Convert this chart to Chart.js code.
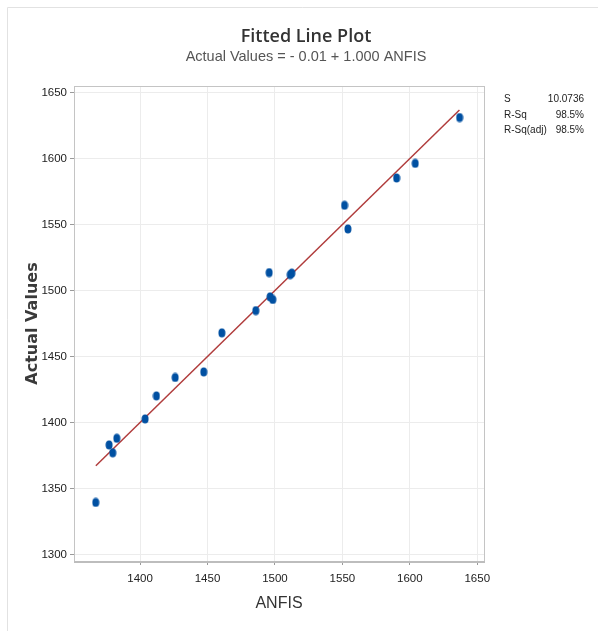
<!DOCTYPE html>
<html><head><meta charset="utf-8">
<script src="https://cdn.jsdelivr.net/npm/chart.js@4"></script>
<style>html,body{margin:0;padding:0;background:#fff;overflow:hidden}#wrap{width:598px;height:631px;position:relative}</style>
</head><body><div id="wrap"><canvas id="c" width="598" height="631"></canvas></div>
<script>
// ---- data ----
const anfis  = [1367.1, 1377.0, 1379.7, 1382.7, 1403.7, 1412.1, 1426.0, 1447.2, 1460.6, 1485.8, 1495.7, 1496.4, 1498.4, 1511.3, 1512.5, 1551.6, 1554.1, 1590.2, 1604.0, 1636.9];
const actual = [1339.4, 1383.0, 1377.0, 1388.0, 1402.7, 1420.1, 1434.1, 1438.3, 1467.9, 1484.8, 1513.6, 1495.2, 1493.2, 1512.0, 1513.2, 1564.6, 1546.7, 1585.3, 1596.4, 1631.1];
const fitX = [1367.2, 1636.8];
const fitY = [1367.2, 1636.8];
const xTicks = [1400, 1450, 1500, 1550, 1600, 1650];
const yTicks = [1300, 1350, 1400, 1450, 1500, 1550, 1600, 1650];
const statNames  = ['S', 'R-Sq', 'R-Sq(adj)'];
const statValues = ['10.0736', '98.5%', '98.5%'];
const titleText = 'Fitted Line Plot';
const subtitleText = 'Actual Values = - 0.01 + 1.000 ANFIS';
const xTitle = 'ANFIS';
const yTitle = 'Actual Values';

const SANS = "'Liberation Sans', Arial, sans-serif";

// elliptical marker like the reference
const dot = document.createElement('canvas');
dot.width = 8; dot.height = 10;
(function(){ const g = dot.getContext('2d'); g.fillStyle = '#0050a2'; g.beginPath(); g.ellipse(4, 5, 3.5, 4.5, 0, 0, Math.PI*2); g.fill(); })();

const pts = anfis.map((v, i) => ({x: v, y: actual[i]}));
const fit = fitX.map((v, i) => ({x: v, y: fitY[i]}));

const framePlugin = {
  id: 'frame',
  beforeDraw(chart) {
    const ctx = chart.ctx;
    ctx.save();
    ctx.strokeStyle = '#e2e2e2'; ctx.lineWidth = 1;
    ctx.beginPath();
    ctx.moveTo(7.5, 631); ctx.lineTo(7.5, 7.5); ctx.lineTo(598, 7.5);
    ctx.stroke();
    ctx.restore();
  },
  afterDraw(chart) {
    const ctx = chart.ctx, a = chart.chartArea;
    ctx.save();
    ctx.strokeStyle = '#c4c4c4'; ctx.lineWidth = 1;
    ctx.strokeRect(Math.round(a.left) + 0.5, Math.round(a.top) + 0.5, Math.round(a.right - a.left), Math.round(a.bottom - a.top));
    ctx.strokeStyle = '#bdbdbd'; ctx.lineWidth = 2;
    ctx.beginPath(); ctx.moveTo(a.left, Math.round(a.bottom) + 1); ctx.lineTo(a.right + 1, Math.round(a.bottom) + 1); ctx.stroke();
    // stats box
    ctx.fillStyle = '#222';
    ctx.font = '10px ' + SANS;
    ctx.textBaseline = 'middle';
    const rows = [99.5, 115, 130.5];
    statNames.forEach((n, i) => {
      ctx.textAlign = 'left'; ctx.fillText(n, 504, rows[i]);
      ctx.textAlign = 'right'; ctx.fillText(statValues[i], 584, rows[i]);
    });
    ctx.restore();
  }
};

new Chart(document.getElementById('c'), {
  type: 'scatter',
  data: {
    datasets: [
      { type: 'line', data: fit, borderColor: '#b03c3c', borderWidth: 1.5, pointRadius: 0, fill: false, order: 2 },
      { data: pts, pointStyle: dot, pointRadius: 4, order: 1 }
    ]
  },
  options: {
    responsive: false,
    animation: false,
    layout: { padding: { left: 14, right: 0, top: 0, bottom: 0 } },
    plugins: {
      legend: { display: false },
      tooltip: { enabled: false },
      title: { display: true, text: titleText, color: '#333', font: { family: "'Open Sans', sans-serif", size: 18, weight: '600' }, padding: { top: 26, bottom: 0 } },
      subtitle: { display: true, text: subtitleText, color: '#555', font: { family: SANS, size: 14.5 }, padding: { top: 1, bottom: 20 } }
    },
    scales: {
      x: {
        type: 'linear', min: 1351, max: 1655,
        afterBuildTicks: s => { s.ticks = xTicks.map(v => ({value: v})); },
        afterFit: s => { s.height = 70; },
        grid: { color: '#ececec', tickColor: '#9a9a9a', tickLength: 4, drawTicks: true },
        border: { display: false },
        ticks: { color: '#222', font: { family: SANS, size: 11.5 }, padding: 7, maxRotation: 0, callback: v => String(v) },
        title: { display: true, text: xTitle, color: '#333', font: { family: SANS, size: 16 }, padding: { top: 0, bottom: 18 } }
      },
      y: {
        type: 'linear', min: 1295, max: 1655,
        afterBuildTicks: s => { s.ticks = yTicks.map(v => ({value: v})); },
        afterFit: s => { s.width = 60; },
        grid: { color: '#ececec', tickColor: '#9a9a9a', tickLength: 4, drawTicks: true },
        border: { display: false },
        ticks: { color: '#222', font: { family: SANS, size: 11.5 }, padding: 3, callback: v => String(v) },
        title: { display: true, text: yTitle, color: '#3a3a3a', font: { family: "'DejaVu Sans', sans-serif", size: 16, weight: 'bold' }, padding: { top: 9, bottom: 0 } }
      },
      side: {
        type: 'linear', position: 'right', min: 0, max: 1,
        afterFit: s => { s.width = 114; },
        grid: { display: false, drawTicks: false },
        border: { display: false },
        ticks: { display: false }
      }
    }
  },
  plugins: [framePlugin]
});
</script></body></html>
